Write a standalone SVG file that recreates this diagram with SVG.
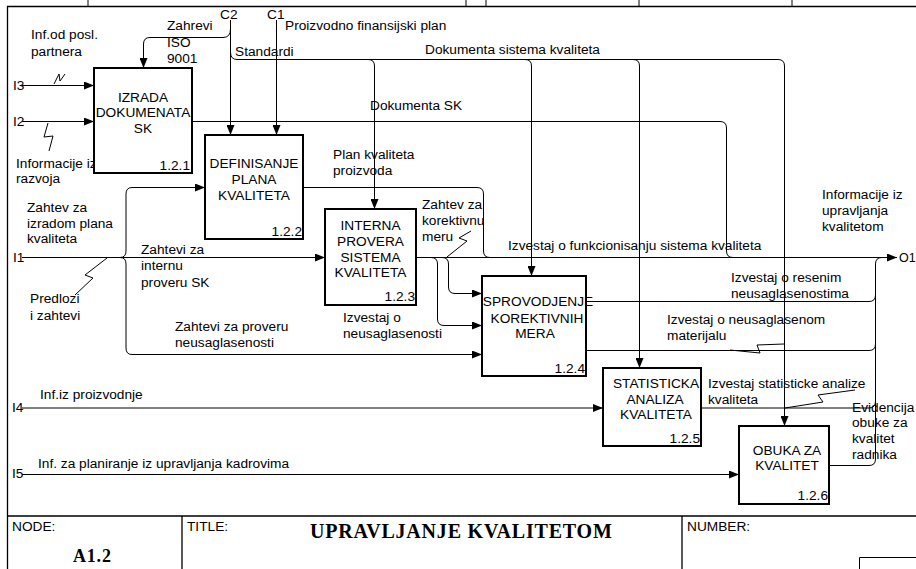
<svg xmlns="http://www.w3.org/2000/svg" width="916" height="569" viewBox="0 0 916 569">
  <defs>
    <marker id="arrow" markerUnits="userSpaceOnUse" markerWidth="10" markerHeight="8" refX="10" refY="4" orient="auto">
      <path d="M0,0 L10,4 L0,8 Z" fill="#000"/>
    </marker>
    <style>
      text { font-family: "Liberation Sans", Arial, sans-serif; font-size: 13.7px; fill: #000; }
      .box { fill: #fff; stroke: #000; stroke-width: 2; }
      .c { text-anchor: middle; }
      .num { text-anchor: end; }
      .ln { fill: none; stroke: #000; stroke-width: 1; }
      .arr { fill: none; stroke: #000; stroke-width: 1; marker-end: url(#arrow); }
      .frame { fill: none; stroke: #000; stroke-width: 1.3; }
      .serif { font-family: "Liberation Serif", "Times New Roman", serif; font-weight: bold; }
    </style>
  </defs>
  <rect width="916" height="569" fill="#fff"/>

  <!-- frame and title block -->
  <g id="frame">
    <path class="frame" d="M7.5,569 V6.5 H916"/>
    <path class="ln" d="M88,0 V6 M466,0 V6 M486,0 V6 M639,0 V6 M792,0 V6"/>
    <path class="frame" d="M7,516 H916 M182,516 V569 M682,516 V569"/>
    <path class="ln" d="M859.5,569 V557.5 H916"/>
    <text x="12" y="531">NODE:</text>
    <text x="187" y="531">TITLE:</text>
    <text x="687" y="531">NUMBER:</text>
    <text class="serif" x="73" y="562" style="font-size:18px;letter-spacing:0.8px">A1.2</text>
    <text class="serif" x="310" y="538" style="font-size:20px;letter-spacing:0.8px">UPRAVLJANJE KVALITETOM</text>
  </g>

  <!-- connectors -->
  <g id="connectors">
    <!-- inputs -->
    <path class="arr" d="M22,85.5 H94"/>
    <path class="arr" d="M22,121.5 H94"/>
    <path class="arr" d="M22,257.5 H325"/>
    <path class="arr" d="M120,257.5 Q126,257.5 126,251 V194 Q126,187.5 132,187.5 H205"/>
    <path class="arr" d="M120,257.5 Q126,257.5 126,264 V348 Q126,354.5 132,354.5 H482"/>
    <path class="arr" d="M22,408 H603"/>
    <path class="arr" d="M22,474.5 H739"/>

    <!-- controls -->
    <path class="arr" d="M230.5,20 V135"/>
    <path class="arr" d="M276.5,20 V135"/>
    <path class="arr" d="M230.5,29 Q230.5,37.5 223,37.5 H150 Q143.5,37.5 143.5,44 V68"/>
    <path class="arr" d="M230.5,52 Q230.5,59.5 237,59.5 H778 Q784.5,59.5 784.5,66 V426"/>
    <path class="arr" d="M368,59.5 Q374.5,59.5 374.5,66 V209"/>
    <path class="arr" d="M525,59.5 Q531.5,59.5 531.5,66 V276"/>
    <path class="arr" d="M633,59.5 Q639.5,59.5 639.5,66 V368"/>

    <!-- internal flows and outputs -->
    <path class="ln" d="M192,121.5 H720 Q726.5,121.5 726.5,128 V251 Q726.5,257.5 733,257.5"/>
    <path class="ln" d="M303,187.5 H477 Q483.5,187.5 483.5,194 V251 Q483.5,257.5 490,257.5"/>
    <path class="arr" d="M416,257.5 H897"/>
    <path class="arr" d="M431,257.5 Q437.5,257.5 437.5,264 V319 Q437.5,325.5 444,325.5 H482"/>
    <path class="arr" d="M442,257.5 Q448.5,257.5 448.5,264 V287 Q448.5,293.5 455,293.5 H482"/>
    <path class="ln" d="M586,301.5 H869 Q875.5,301.5 875.5,295 V264 Q875.5,257.5 882,257.5"/>
    <path class="ln" d="M586,350.5 H869 Q875.5,350.5 875.5,344"/>
    <path class="ln" d="M701,408 H869 Q875.5,408 875.5,401"/>
    <path class="ln" d="M829,465.5 H869 Q875.5,465.5 875.5,459 V295"/>

    <!-- label leaders -->
    <path class="ln" d="M54,84 L59,74 L60,81 L65,74"/>
    <path class="ln" d="M48,123 L44,137 L53,136 L49,151"/>
    <path class="ln" d="M107,258 L85,275 L93,278 L75,295"/>
    <path class="ln" d="M447,257 L467,241 L459,238 L471,231"/>
    <path class="ln" d="M730,350 L760,353 L757,345 L784,344"/>
    <path class="ln" d="M785,408 L823,402 L818,395 L855,390"/>

    <!-- connector labels -->
    <text x="13" y="90">I3</text>
    <text x="13" y="126">I2</text>
    <text x="13" y="262">I1</text>
    <text x="12" y="412">I4</text>
    <text x="12" y="478">I5</text>
    <text x="220" y="19">C2</text>
    <text x="267" y="19">C1</text>
    <text x="899" y="262" style="font-size:12.5px">O1</text>
    <text x="31" y="39">Inf.od posl.</text>
    <text x="31" y="56">partnera</text>
    <text x="16" y="168">Informacije iz</text>
    <text x="16" y="183">razvoja</text>
    <text x="167" y="30">Zahrevi</text>
    <text x="167" y="47">ISO</text>
    <text x="167" y="63">9001</text>
    <text x="285" y="30">Proizvodno finansijski plan</text>
    <text x="235" y="56">Standardi</text>
    <text x="425" y="54">Dokumenta sistema kvaliteta</text>
    <text x="370" y="110">Dokumenta SK</text>
    <text x="333" y="159">Plan kvaliteta</text>
    <text x="333" y="175">proizvoda</text>
    <text x="27" y="212">Zahtev za</text>
    <text x="27" y="228">izradom plana</text>
    <text x="27" y="243">kvaliteta</text>
    <text x="141" y="254">Zahtevi za</text>
    <text x="141" y="270">internu</text>
    <text x="141" y="287">proveru SK</text>
    <text x="30" y="303">Predlozi</text>
    <text x="30" y="320">i zahtevi</text>
    <text x="175" y="331">Zahtevi za proveru</text>
    <text x="175" y="347">neusaglasenosti</text>
    <text x="422" y="209">Zahtev za</text>
    <text x="422" y="225">korektivnu</text>
    <text x="422" y="241">meru</text>
    <text x="508" y="250">Izvestaj o funkcionisanju sistema kvaliteta</text>
    <text x="343" y="322">Izvestaj o</text>
    <text x="343" y="338">neusaglasenosti</text>
    <text x="822" y="199">Informacije iz</text>
    <text x="822" y="215">upravljanja</text>
    <text x="822" y="231">kvalitetom</text>
    <text x="731" y="282">Izvestaj o resenim</text>
    <text x="731" y="298">neusaglasenostima</text>
    <text x="667" y="324">Izvestaj o neusaglasenom</text>
    <text x="667" y="340">materijalu</text>
    <text x="40" y="399">Inf.iz proizvodnje</text>
    <text x="38" y="468">Inf. za planiranje iz upravljanja kadrovima</text>
    <text x="708" y="388">Izvestaj statisticke analize</text>
    <text x="708" y="404">kvaliteta</text>
    <text x="852" y="412">Evidencija</text>
    <text x="852" y="427">obuke za</text>
    <text x="852" y="443">kvalitet</text>
    <text x="852" y="459">radnika</text>
  </g>

  <!-- activity boxes -->
  <g id="a121">
    <rect class="box" x="94" y="68" width="98" height="105"/>
    <text class="c" x="143" y="102">IZRADA</text>
    <text class="c" x="143" y="117">DOKUMENATA</text>
    <text class="c" x="143" y="133">SK</text>
    <text class="num" x="190" y="170">1.2.1</text>
  </g>
  <g id="a122">
    <rect class="box" x="205" y="135" width="98" height="104"/>
    <text class="c" x="254" y="168">DEFINISANJE</text>
    <text class="c" x="254" y="184">PLANA</text>
    <text class="c" x="254" y="200">KVALITETA</text>
    <text class="num" x="302" y="236">1.2.2</text>
  </g>
  <g id="a123">
    <rect class="box" x="325" y="209" width="91" height="96"/>
    <text class="c" x="370.5" y="230">INTERNA</text>
    <text class="c" x="370.5" y="246">PROVERA</text>
    <text class="c" x="370.5" y="262">SISTEMA</text>
    <text class="c" x="370.5" y="277">KVALITETA</text>
    <text class="num" x="415" y="301">1.2.3</text>
  </g>
  <g id="a124">
    <rect class="box" x="482" y="276" width="104" height="100"/>
    <text class="c" x="538" y="306">SPROVODJENJE</text>
    <text class="c" x="537" y="323">KOREKTIVNIH</text>
    <text class="c" x="535" y="338">MERA</text>
    <text class="num" x="585" y="373">1.2.4</text>
  </g>
  <g id="a125">
    <rect class="box" x="603" y="368" width="98" height="78"/>
    <text class="c" x="656" y="388">STATISTICKA</text>
    <text class="c" x="655" y="404">ANALIZA</text>
    <text class="c" x="656" y="419">KVALITETA</text>
    <text class="num" x="700" y="443">1.2.5</text>
  </g>
  <g id="a126">
    <rect class="box" x="739" y="426" width="90" height="78"/>
    <text class="c" x="787" y="455">OBUKA ZA</text>
    <text class="c" x="787" y="470">KVALITET</text>
    <text class="num" x="828" y="500">1.2.6</text>
  </g>
</svg>
